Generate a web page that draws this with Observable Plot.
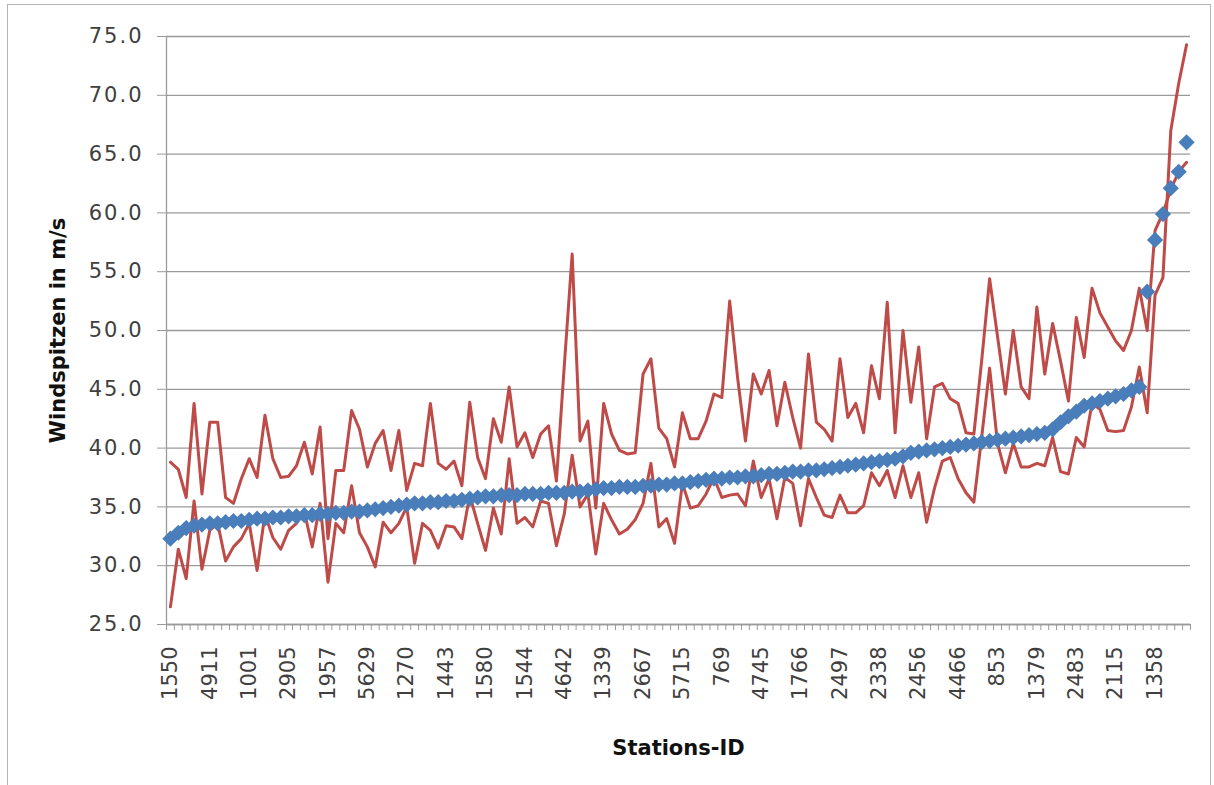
<!DOCTYPE html>
<html>
<head>
<meta charset="utf-8">
<script src="https://cdn.jsdelivr.net/npm/d3@7"></script>
<script src="https://cdn.jsdelivr.net/npm/@observablehq/plot@0.6"></script>
<style>
  html, body { margin: 0; padding: 0; background: #fff; }
  #wrap { position: relative; width: 1214px; height: 785px; overflow: hidden; }
  #border { position: absolute; left: 7px; top: 4px; width: 1204px; height: 800px; border: 1.5px solid #b4b4b4; box-sizing: border-box; }
  #chart { position: absolute; left: 0; top: 0; }
  g[aria-label="x-axis label"] text, g[aria-label="y-axis label"] text { font-weight: bold; fill: #111; }
  g[aria-label="y-axis tick label"] text { letter-spacing: 2px; }
</style>
</head>
<body>
<div id="wrap"><div id="border"></div><div id="chart"></div></div>
<script>
// Station IDs shown on the axis (every 5th station)
const stationLabels = ["1550","4911","1001","2905","1957","5629","1270","1443","1580","1544","4642","1339","2667","5715","769","4745","1766","2497","2338","2456","4466","853","1379","2483","2115","1358"];

// Blue diamonds: sorted wind peaks (m/s)
const sortedPeak = [
32.3,32.8,33.2,33.4,33.5,33.6,33.6,33.7,33.8,33.8,
33.9,34.0,34.0,34.1,34.1,34.2,34.2,34.3,34.3,34.4,
34.4,34.5,34.5,34.6,34.6,34.7,34.8,34.9,35.0,35.1,
35.2,35.3,35.3,35.4,35.4,35.5,35.5,35.6,35.7,35.8,
35.9,35.9,36.0,36.0,36.0,36.1,36.1,36.1,36.2,36.2,
36.2,36.3,36.3,36.4,36.5,36.6,36.6,36.7,36.7,36.7,
36.8,36.8,36.9,36.9,37.0,37.0,37.1,37.2,37.3,37.4,
37.4,37.5,37.5,37.6,37.6,37.7,37.8,37.8,37.9,38.0,
38.0,38.1,38.1,38.2,38.3,38.4,38.5,38.6,38.7,38.8,
38.9,39.0,39.1,39.3,39.6,39.7,39.8,39.9,40.0,40.1,
40.2,40.3,40.4,40.5,40.6,40.7,40.8,40.9,41.0,41.1,
41.2,41.3,41.6,42.2,42.7,43.1,43.6,43.8,44.0,44.2,
44.4,44.6,44.9,45.2,53.3,57.7,59.9,62.1,63.5,66.0];

// Red line 1 (upper)
const upperPeak = [
38.8,38.2,35.8,43.8,36.1,42.2,42.2,35.8,35.3,37.4,
39.1,37.5,42.8,39.1,37.5,37.6,38.5,40.5,37.8,41.8,
32.3,38.1,38.1,43.2,41.6,38.4,40.4,41.5,38.1,41.5,
36.4,38.7,38.5,43.8,38.7,38.2,38.9,36.8,43.9,39.2,
37.4,42.5,40.5,45.2,40.1,41.3,39.2,41.2,41.9,37.2,
47.0,56.5,40.6,42.3,34.9,43.8,41.2,39.8,39.5,39.6,
46.3,47.6,41.7,40.8,38.4,43.0,40.8,40.8,42.3,44.6,
44.3,52.5,46.0,40.6,46.3,44.6,46.6,41.9,45.6,42.6,
40.0,48.0,42.2,41.6,40.6,47.6,42.6,43.8,41.3,47.0,
44.2,52.4,41.3,50.0,43.9,48.6,40.8,45.2,45.5,44.2,
43.8,41.3,41.2,47.5,54.4,49.5,44.6,50.0,45.2,44.2,
52.0,46.3,50.6,47.4,44.0,51.1,47.7,53.6,51.5,50.3,
49.1,48.3,50.0,53.6,50.0,58.5,60.0,62.0,63.5,64.3];

// Red line 2 (lower)
const lowerPeak = [
26.5,31.4,28.9,35.5,29.7,33.0,33.6,30.4,31.6,32.3,
33.6,29.6,34.4,32.4,31.4,33.0,33.6,34.6,31.6,35.3,
28.6,33.6,32.8,36.8,32.8,31.6,29.9,33.7,32.8,33.6,
35.0,30.2,33.6,33.0,31.5,33.4,33.3,32.3,36.0,33.6,
31.3,34.9,32.7,39.1,33.6,34.1,33.3,35.5,35.3,31.7,
34.4,39.4,35.0,36.1,31.0,35.3,33.9,32.7,33.1,33.9,
35.3,38.7,33.3,34.0,31.9,37.0,34.9,35.1,36.1,37.5,
35.8,36.0,36.1,35.1,38.9,35.8,37.4,34.0,37.5,37.0,
33.4,37.4,35.8,34.3,34.1,36.0,34.5,34.5,35.1,37.9,
36.8,38.1,35.8,38.5,35.8,37.9,33.7,36.6,38.9,39.2,
37.4,36.2,35.4,41.0,46.8,40.4,37.9,40.4,38.4,38.4,
38.7,38.5,40.9,38.0,37.8,40.9,40.1,43.8,43.3,41.5,
41.4,41.5,43.5,46.9,43.0,53.0,54.5,67.0,71.0,74.3];

const yTicks = [25,30,35,40,45,50,55,60,65,70,75];

const n = sortedPeak.length;
const idx = d3.range(n);
const rows = idx.map(i => ({i, sorted: sortedPeak[i], upper: upperPeak[i], lower: lowerPeak[i]}));
const boundaries = d3.range(n + 1).map(i => i - 0.5);
const labelIdx = stationLabels.map((_, k) => k * 5);

const grid = "#9a9a9a";
const textCol = "#404040";

const chart = Plot.plot({
  width: 1214,
  height: 785,
  marginLeft: 166,
  marginRight: 24,
  marginTop: 36,
  marginBottom: 161,
  style: {fontFamily: "DejaVu Sans, sans-serif", fontSize: "21px", color: textCol, background: "transparent", overflow: "visible"},
  x: {type: "linear", domain: [-0.5, n - 0.5]},
  y: {domain: [25, 75]},
  marks: [
    Plot.gridY(yTicks, {stroke: grid, strokeOpacity: 1, strokeWidth: 1.3}),
    Plot.axisY(yTicks, {tickSize: 9, tickPadding: 14, tickFormat: d3.format(".1f"), stroke: grid,
      label: "Windspitzen in m/s", labelArrow: "none", labelAnchor: "center", labelOffset: 116, fontSize: 21, fill: textCol}),
    Plot.ruleX([-0.5], {stroke: grid, strokeWidth: 1.3}),
    Plot.ruleY([25], {stroke: grid, strokeWidth: 1.3}),
    Plot.axisX(boundaries, {tickSize: 6, tickFormat: () => "", stroke: grid, label: null}),
    Plot.axisX(labelIdx, {tickSize: 0, tickPadding: 22, tickRotate: -90, tickFormat: i => stationLabels[i / 5],
      fontSize: 21, fill: textCol,
      label: "Stations-ID", labelArrow: "none", labelAnchor: "center", labelOffset: 130}),
    Plot.line(rows, {x: "i", y: "upper", stroke: "#BE4B48", strokeWidth: 3, curve: "linear"}),
    Plot.line(rows, {x: "i", y: "lower", stroke: "#BE4B48", strokeWidth: 3, curve: "linear"}),
    Plot.dot(rows, {x: "i", y: "sorted", symbol: "diamond2", r: 7.3, fill: "#4A7EBB", stroke: "none"})
  ]
});
document.getElementById("chart").appendChild(chart);
</script>
</body>
</html>
